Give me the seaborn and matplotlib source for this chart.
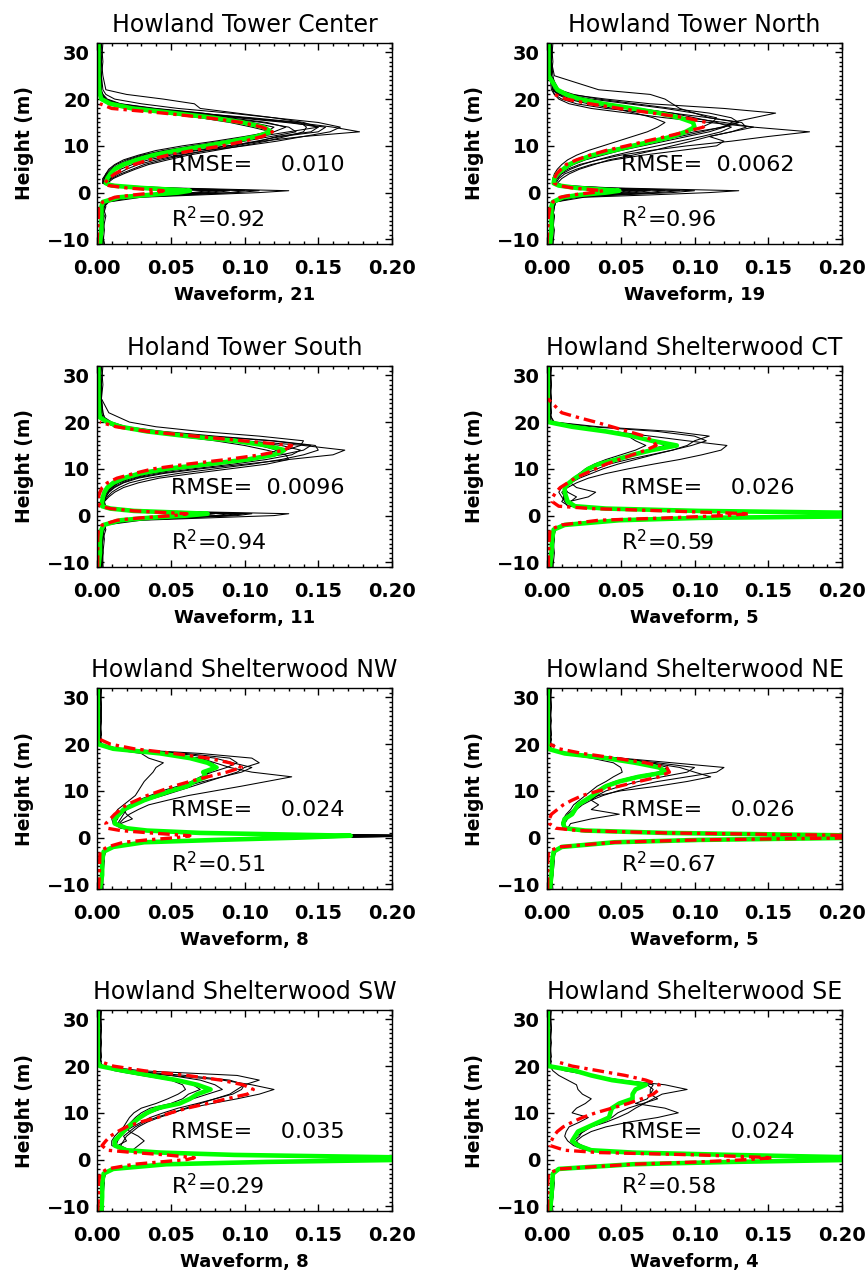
import numpy as np
import pandas as pd
import matplotlib
matplotlib.use("Agg")
import matplotlib.pyplot as plt
from matplotlib.ticker import MultipleLocator, FormatStrFormatter
import seaborn as sns

nan = np.nan

# ---------------- data ----------------
heights = [-11, -8, -5, -3, -2, -1, -0.5, 0, 0.4, 1, 1.5, 2, 3, 4, 5, 6, 7, 8,
           9, 10, 11, 12, 13, 14, 15, 16, 17, 18, 19, 20, 21, 22, 25, 28, 32]

titles = ["Howland Tower Center", "Howland Tower North", "Holand Tower South",
          "Howland Shelterwood CT", "Howland Shelterwood NW", "Howland Shelterwood NE",
          "Howland Shelterwood SW", "Howland Shelterwood SE"]
wave_counts = [21, 19, 11, 5, 8, 5, 8, 4]
rmse_labels = ["RMSE=    0.010", "RMSE=  0.0062", "RMSE=  0.0096", "RMSE=    0.026",
               "RMSE=    0.024", "RMSE=    0.026", "RMSE=    0.035", "RMSE=    0.024"]
r2_values = ["0.92", "0.96", "0.94", "0.59", "0.51", "0.67", "0.29", "0.58"]

# mean waveform (green)
mean_1 = [0.002,0.003,0.003,0.003, 0.004,0.015,0.035,0.055,0.063,0.030,0.010,0.006, 0.007,0.009,0.012,0.018,0.027,0.038, 0.054,0.074,0.092,0.108,0.118,0.113,0.099,0.079,0.052,0.024,0.009, 0.003,0.002,0.0015,0.001,0.001,0.001]
mean_2 = [0.002,0.003,0.003,0.003, 0.004,0.011,0.022,0.040,0.049,0.020,0.008,0.0045, 0.005,0.007,0.011,0.015,0.022,0.031, 0.045,0.058,0.072,0.085,0.094,0.100,0.099,0.090,0.076,0.058,0.038, 0.022,0.013,0.007,0.001,0.001,0.001]
mean_3 = [0.001,0.002,0.002,0.003, 0.0045,0.016,0.034,0.061,0.075,0.025,0.009,0.0035, 0.0035,0.004,0.005,0.007,0.011,0.018, 0.029,0.047,0.075,0.102,0.120,0.127,0.115,0.093,0.061,0.034,0.016, 0.007,0.002,0.0015,0.001,0.001,0.001]
mean_4 = [0.002,0.003,0.0035,0.0045, 0.012,0.049,0.103,0.260,0.260,0.103,0.040,0.019, 0.014,0.013,0.012,0.012,0.015,0.019, 0.024,0.028,0.035,0.047,0.058,0.071,0.088,0.071,0.058,0.040,0.017, 0.001,0.0005,0.0005,0.0005,0.0005,0.0005]
mean_5 = [0.002,0.0035,0.0035,0.0045, 0.011,0.032,0.081,0.138,0.172,0.070,0.034,0.020, 0.012,0.012,0.015,0.018,0.025,0.032, 0.041,0.050,0.061,0.066,0.074,0.072,0.081,0.075,0.063,0.043,0.011, 0.0005,0.0005,0.0005,0.0005,0.0005,0.0005]
mean_6 = [0.002,0.003,0.0035,0.0045, 0.010,0.046,0.103,0.220,0.220,0.080,0.026,0.012, 0.011,0.012,0.017,0.019,0.021,0.026, 0.031,0.035,0.040,0.049,0.062,0.081,0.076,0.060,0.040,0.012,0.0005, 0.0005,0.0005,0.0005,0.0005,0.0005,0.0005]
mean_7 = [0.003,0.0035,0.0035,0.0045, 0.011,0.047,0.115,0.220,0.220,0.093,0.043,0.020, 0.012,0.012,0.015,0.018,0.021,0.025, 0.029,0.034,0.041,0.056,0.063,0.068,0.077,0.068,0.054,0.036,0.018, 0.002,0.0005,0.0005,0.0005,0.0005,0.0005]
mean_8 = [0.002,0.003,0.0035,0.004, 0.008,0.058,0.125,0.220,0.220,0.125,0.058,0.030, 0.021,0.017,0.019,0.021,0.028,0.035, 0.042,0.043,0.044,0.049,0.058,0.058,0.060,0.067,0.044,0.030,0.019, 0.001,0.0005,0.0005,0.0005,0.0005,0.0005]

# modelled waveform (red)
model_1 = [0.0,0.0005,0.001,0.001, 0.004,0.012,0.025,0.040,0.045,0.020,0.008,0.005, 0.008,0.012,0.018,0.025,0.035,0.048, 0.065,0.085,0.100,0.112,0.119,0.112,0.098,0.075,0.045,0.010,0.002, nan,nan,nan,nan,nan,nan]
model_2 = [0.0,0.0005,0.001,0.002, 0.004,0.009,0.017,0.031,0.038,0.017,0.008,0.005, 0.005,0.0065,0.0095,0.013,0.020,0.029, 0.040,0.054,0.067,0.081,0.094,0.106,0.108,0.094,0.072,0.049,0.029, 0.013,0.005,nan,nan,nan,nan]
model_3 = [0.0005,0.0005,0.0005,0.001, 0.0035,0.0135,0.029,0.052,0.061,0.025,0.009,0.002, 0.001,0.001,0.002,0.0035,0.007,0.0135, 0.025,0.038,0.061,0.088,0.111,0.127,0.132,0.099,0.066,0.034,0.013, 0.002,nan,nan,nan,nan,nan]
model_4 = [0.001,0.001,0.0015,0.002, 0.010,0.035,0.081,0.121,0.137,0.081,0.030,0.008, 0.0035,0.004,0.006,0.009,0.014,0.019, 0.026,0.033,0.040,0.049,0.058,0.067,0.074,0.072,0.066,0.055,0.044, 0.033,0.021,0.010,0.0005,nan,nan]
model_5 = [0.001,0.0015,0.0018,0.002, 0.007,0.018,0.034,0.054,0.063,0.036,0.016,0.007, 0.006,0.009,0.012,0.016,0.020,0.027, 0.034,0.043,0.052,0.063,0.075,0.088,0.098,0.090,0.075,0.052,0.025, 0.009,0.002,nan,nan,nan,nan]
model_6 = [0.0005,0.0005,0.0005,0.001, 0.008,0.046,0.103,0.220,0.220,0.080,0.021,0.006, 0.0016,0.0016,0.003,0.007,0.011,0.017, 0.024,0.035,0.049,0.062,0.076,0.083,0.081,0.067,0.046,0.024,0.008, 0.002,nan,nan,nan,nan,nan]
model_7 = [0.0005,0.001,0.001,0.002, 0.007,0.025,0.043,0.061,0.066,0.047,0.025,0.007, 0.0034,0.006,0.009,0.014,0.020,0.029, 0.041,0.050,0.061,0.075,0.088,0.102,0.106,0.099,0.084,0.061,0.032, 0.011,0.002,nan,nan,nan,nan]
model_8 = [0.0005,0.0005,0.0005,0.001, 0.008,0.058,0.103,0.137,0.153,0.103,0.035,0.012, 0.002,0.003,0.0045,0.007,0.011,0.017, 0.024,0.033,0.044,0.055,0.064,0.072,0.076,0.076,0.067,0.053,0.035, 0.017,0.006,nan,nan,nan,nan]

# individual waveforms (black)
waves_1 = [
    [0.004,0.005,0.004,0.005, 0.008,0.030,0.070,0.110,0.130,0.050,0.015,0.008, 0.006,0.010,0.013,0.020,0.030,0.045, 0.065,0.088,0.112,0.140,0.178,0.160,0.135,0.100,0.065,0.030,0.012, 0.006,0.004,0.003,0.003,0.004,0.003],
    [0.003,0.004,0.006,0.004, 0.006,0.022,0.055,0.090,0.100,0.040,0.012,0.005, 0.009,0.014,0.020,0.028,0.040,0.055, 0.075,0.100,0.122,0.140,0.158,0.165,0.150,0.120,0.090,0.055,0.030, 0.012,0.006,0.004,0.003,0.002,0.003],
    [0.005,0.003,0.004,0.006, 0.005,0.018,0.040,0.065,0.075,0.030,0.010,0.004, 0.005,0.008,0.010,0.015,0.022,0.032, 0.048,0.068,0.090,0.110,0.130,0.150,0.140,0.120,0.095,0.070,0.066, 0.045,0.020,0.006,0.004,0.003,0.004],
    [0.002,0.004,0.003,0.005, 0.007,0.025,0.060,0.095,0.110,0.045,0.012,0.007, 0.011,0.018,0.026,0.035,0.048,0.062, 0.080,0.098,0.115,0.128,0.140,0.142,0.138,0.105,0.068,0.035,0.014, 0.005,0.003,0.002,0.002,0.003,0.002],
    [0.003,0.002,0.003,0.004, 0.005,0.015,0.035,0.055,0.062,0.025,0.008,0.004, 0.004,0.006,0.008,0.012,0.018,0.028, 0.040,0.058,0.080,0.100,0.118,0.105,0.090,0.070,0.045,0.020,0.007, 0.003,0.002,0.002,0.001,0.002,0.001],
    [0.004,0.003,0.005,0.003, 0.006,0.020,0.045,0.075,0.085,0.035,0.010,0.006, 0.008,0.012,0.016,0.024,0.035,0.050, 0.068,0.090,0.108,0.125,0.150,0.155,0.128,0.095,0.060,0.028,0.010, 0.004,0.003,0.003,0.002,0.003,0.002],
    [0.002,0.003,0.002,0.003, 0.004,0.012,0.030,0.048,0.055,0.022,0.007,0.005, 0.006,0.007,0.010,0.016,0.024,0.035, 0.050,0.070,0.090,0.108,0.120,0.128,0.115,0.090,0.072,0.040,0.016, 0.007,0.004,0.002,0.002,0.001,0.002],
    [0.003,0.004,0.004,0.003, 0.005,0.018,0.042,0.070,0.080,0.032,0.009,0.004, 0.004,0.007,0.011,0.017,0.026,0.040, 0.058,0.080,0.100,0.118,0.135,0.130,0.112,0.085,0.058,0.028,0.010, 0.004,0.003,0.002,0.003,0.002,0.003],
    [0.005,0.003,0.004,0.004, 0.006,0.022,0.050,0.080,0.090,0.036,0.011,0.005, 0.010,0.016,0.024,0.032,0.044,0.058, 0.074,0.094,0.110,0.122,0.145,0.150,0.132,0.100,0.070,0.038,0.015, 0.006,0.003,0.003,0.002,0.003,0.002],
    [0.002,0.003,0.003,0.004, 0.004,0.014,0.032,0.050,0.058,0.024,0.008,0.004, 0.005,0.006,0.009,0.013,0.020,0.030, 0.045,0.064,0.085,0.104,0.115,0.120,0.105,0.082,0.055,0.026,0.009, 0.003,0.002,0.002,0.002,0.002,0.001],
]
waves_2 = [
    [0.004,0.005,0.003,0.004, 0.006,0.025,0.070,0.110,0.130,0.045,0.012,0.006, 0.006,0.009,0.014,0.022,0.035,0.050, 0.070,0.095,0.125,0.150,0.178,0.140,0.110,0.080,0.055,0.030,0.015, 0.008,0.005,0.004,0.003,0.004,0.003],
    [0.003,0.004,0.005,0.003, 0.005,0.015,0.035,0.060,0.070,0.028,0.010,0.005, 0.005,0.008,0.012,0.018,0.026,0.038, 0.050,0.065,0.080,0.095,0.110,0.120,0.125,0.140,0.155,0.120,0.070, 0.040,0.015,0.006,0.004,0.003,0.004],
    [0.002,0.003,0.004,0.005, 0.006,0.012,0.030,0.050,0.060,0.025,0.008,0.004, 0.004,0.006,0.010,0.014,0.020,0.030, 0.040,0.055,0.070,0.085,0.100,0.120,0.130,0.110,0.100,0.090,0.085, 0.080,0.070,0.035,0.005,0.003,0.002],
    [0.003,0.002,0.004,0.004, 0.005,0.018,0.045,0.075,0.090,0.035,0.010,0.006, 0.008,0.012,0.020,0.030,0.045,0.065, 0.090,0.115,0.120,0.110,0.125,0.140,0.120,0.095,0.070,0.040,0.020, 0.010,0.005,0.003,0.002,0.003,0.002],
    [0.002,0.003,0.002,0.003, 0.004,0.010,0.022,0.038,0.045,0.018,0.007,0.004, 0.004,0.005,0.007,0.010,0.014,0.020, 0.028,0.038,0.048,0.058,0.068,0.075,0.080,0.072,0.060,0.045,0.028, 0.014,0.007,0.004,0.002,0.002,0.001],
    [0.004,0.004,0.003,0.005, 0.006,0.020,0.050,0.085,0.100,0.040,0.012,0.007, 0.010,0.015,0.022,0.032,0.042,0.058, 0.072,0.085,0.098,0.110,0.125,0.135,0.132,0.110,0.085,0.060,0.035, 0.016,0.008,0.004,0.003,0.003,0.003],
    [0.003,0.003,0.005,0.003, 0.005,0.014,0.032,0.055,0.065,0.028,0.009,0.005, 0.006,0.008,0.012,0.017,0.025,0.035, 0.048,0.060,0.072,0.085,0.095,0.105,0.112,0.115,0.100,0.080,0.055, 0.030,0.012,0.005,0.003,0.002,0.003],
    [0.003,0.004,0.004,0.005, 0.005,0.016,0.040,0.068,0.080,0.030,0.010,0.005, 0.007,0.010,0.016,0.024,0.034,0.046, 0.060,0.075,0.090,0.105,0.118,0.125,0.115,0.100,0.085,0.062,0.040, 0.020,0.009,0.004,0.003,0.002,0.003],
    [0.002,0.003,0.003,0.004, 0.004,0.012,0.028,0.048,0.055,0.022,0.008,0.004, 0.005,0.007,0.010,0.016,0.024,0.034, 0.046,0.060,0.075,0.090,0.105,0.118,0.130,0.125,0.110,0.085,0.060, 0.035,0.018,0.008,0.003,0.003,0.002],
]
waves_3 = [
    [0.003,0.004,0.005,0.004, 0.006,0.030,0.075,0.120,0.130,0.040,0.012,0.005, 0.004,0.006,0.008,0.012,0.018,0.028, 0.045,0.070,0.100,0.130,0.160,0.168,0.140,0.100,0.065,0.035,0.015, 0.007,0.004,0.003,0.003,0.003,0.004],
    [0.004,0.003,0.004,0.006, 0.005,0.025,0.060,0.095,0.105,0.035,0.010,0.006, 0.005,0.007,0.010,0.015,0.022,0.035, 0.055,0.080,0.105,0.125,0.140,0.150,0.148,0.120,0.080,0.045,0.020, 0.010,0.005,0.004,0.003,0.002,0.003],
    [0.002,0.004,0.003,0.004, 0.004,0.020,0.050,0.085,0.095,0.030,0.010,0.004, 0.004,0.005,0.007,0.010,0.014,0.022, 0.035,0.055,0.080,0.100,0.118,0.128,0.138,0.140,0.110,0.070,0.040, 0.022,0.015,0.008,0.003,0.003,0.002],
    [0.003,0.002,0.004,0.003, 0.005,0.022,0.055,0.090,0.100,0.032,0.011,0.005, 0.005,0.008,0.012,0.018,0.028,0.042, 0.065,0.090,0.115,0.130,0.128,0.115,0.100,0.080,0.055,0.030,0.012, 0.005,0.003,0.002,0.002,0.003,0.002],
    [0.004,0.004,0.003,0.005, 0.006,0.020,0.048,0.080,0.090,0.030,0.010,0.005, 0.003,0.005,0.006,0.009,0.013,0.020, 0.032,0.050,0.075,0.100,0.125,0.140,0.145,0.118,0.075,0.040,0.018, 0.008,0.005,0.004,0.003,0.004,0.003],
    [0.002,0.003,0.002,0.003, 0.004,0.015,0.040,0.070,0.080,0.028,0.008,0.004, 0.004,0.005,0.007,0.010,0.015,0.024, 0.038,0.058,0.082,0.102,0.115,0.122,0.110,0.090,0.062,0.035,0.016, 0.007,0.003,0.002,0.001,0.002,0.002],
    [0.003,0.003,0.004,0.004, 0.005,0.022,0.052,0.088,0.098,0.033,0.010,0.005, 0.005,0.006,0.008,0.011,0.017,0.026, 0.042,0.065,0.092,0.115,0.132,0.138,0.125,0.100,0.068,0.038,0.017, 0.008,0.004,0.003,0.002,0.003,0.002],
]
waves_4 = [
    [0.004,0.005,0.004,0.006, 0.012,0.050,0.110,0.250,0.250,0.110,0.040,0.015, 0.010,0.012,0.010,0.014,0.020,0.028, 0.040,0.055,0.072,0.090,0.105,0.118,0.122,0.095,0.070,0.045,0.015, 0.003,0.002,0.003,0.002,0.003,0.002],
    [0.003,0.004,0.005,0.004, 0.010,0.045,0.100,0.240,0.240,0.100,0.038,0.016, 0.015,0.028,0.033,0.020,0.016,0.020, 0.026,0.034,0.042,0.055,0.070,0.085,0.098,0.108,0.100,0.075,0.030, 0.004,0.003,0.002,0.003,0.002,0.003],
    [0.003,0.003,0.004,0.005, 0.010,0.040,0.095,0.220,0.220,0.095,0.035,0.014, 0.012,0.010,0.008,0.010,0.014,0.018, 0.022,0.026,0.032,0.040,0.050,0.060,0.067,0.060,0.055,0.040,0.015, 0.002,0.002,0.003,0.002,0.002,0.003],
    [0.004,0.003,0.005,0.004, 0.011,0.048,0.105,0.230,0.230,0.105,0.040,0.018, 0.016,0.020,0.014,0.012,0.016,0.022, 0.030,0.038,0.048,0.060,0.072,0.085,0.095,0.100,0.110,0.085,0.035, 0.005,0.003,0.002,0.002,0.003,0.002],
    [0.002,0.004,0.003,0.004, 0.012,0.052,0.108,0.260,0.260,0.108,0.042,0.020, 0.013,0.011,0.012,0.011,0.014,0.018, 0.022,0.027,0.033,0.045,0.056,0.068,0.080,0.072,0.062,0.045,0.018, 0.002,0.002,0.002,0.003,0.002,0.002],
]
waves_5 = [
    [0.003,0.004,0.005,0.004, 0.010,0.030,0.085,0.160,0.220,0.070,0.030,0.018, 0.015,0.018,0.022,0.028,0.035,0.048, 0.062,0.080,0.098,0.115,0.132,0.105,0.090,0.080,0.070,0.040,0.010, 0.002,0.002,0.003,0.002,0.003,0.002],
    [0.004,0.003,0.004,0.006, 0.012,0.035,0.090,0.150,0.200,0.075,0.035,0.022, 0.014,0.016,0.018,0.020,0.026,0.034, 0.045,0.055,0.065,0.075,0.085,0.095,0.100,0.110,0.105,0.070,0.015, 0.003,0.002,0.002,0.003,0.002,0.003],
    [0.002,0.004,0.003,0.005, 0.011,0.033,0.082,0.140,0.210,0.068,0.032,0.019, 0.016,0.024,0.020,0.018,0.022,0.030, 0.038,0.048,0.060,0.072,0.085,0.098,0.105,0.092,0.080,0.055,0.012, 0.002,0.003,0.002,0.002,0.003,0.002],
    [0.003,0.003,0.004,0.004, 0.010,0.028,0.075,0.130,0.190,0.062,0.030,0.016, 0.011,0.010,0.012,0.014,0.018,0.022, 0.026,0.028,0.030,0.032,0.035,0.038,0.040,0.045,0.035,0.030,0.008, 0.002,0.002,0.003,0.002,0.002,0.003],
    [0.002,0.003,0.003,0.005, 0.012,0.034,0.088,0.150,0.230,0.072,0.036,0.021, 0.013,0.013,0.016,0.020,0.026,0.034, 0.042,0.052,0.060,0.066,0.072,0.076,0.082,0.078,0.068,0.050,0.012, 0.003,0.002,0.002,0.003,0.003,0.002],
    [0.004,0.004,0.003,0.004, 0.011,0.031,0.080,0.145,0.250,0.068,0.033,0.020, 0.012,0.014,0.015,0.017,0.022,0.028, 0.036,0.044,0.055,0.064,0.070,0.078,0.088,0.095,0.090,0.060,0.014, 0.002,0.003,0.002,0.002,0.002,0.003],
]
waves_6 = [
    [0.003,0.004,0.005,0.004, 0.011,0.050,0.110,0.230,0.230,0.085,0.028,0.013, 0.012,0.014,0.016,0.020,0.024,0.030, 0.038,0.048,0.060,0.075,0.095,0.115,0.120,0.085,0.050,0.015,0.002, 0.002,0.003,0.002,0.002,0.003,0.002],
    [0.004,0.003,0.004,0.006, 0.010,0.045,0.100,0.220,0.220,0.078,0.025,0.012, 0.010,0.012,0.014,0.018,0.022,0.028, 0.035,0.050,0.075,0.095,0.111,0.100,0.090,0.070,0.045,0.013,0.002, 0.003,0.002,0.003,0.002,0.002,0.003],
    [0.002,0.004,0.003,0.005, 0.009,0.042,0.095,0.210,0.210,0.075,0.024,0.011, 0.010,0.011,0.013,0.016,0.018,0.022, 0.026,0.030,0.034,0.040,0.045,0.051,0.050,0.045,0.030,0.010,0.002, 0.002,0.002,0.002,0.003,0.002,0.002],
    [0.003,0.003,0.004,0.004, 0.011,0.048,0.105,0.230,0.230,0.082,0.027,0.014, 0.016,0.030,0.049,0.030,0.035,0.030, 0.034,0.040,0.050,0.062,0.078,0.095,0.100,0.075,0.048,0.014,0.003, 0.002,0.003,0.002,0.002,0.003,0.002],
    [0.002,0.003,0.003,0.005, 0.010,0.046,0.102,0.220,0.220,0.080,0.026,0.012, 0.011,0.012,0.018,0.020,0.022,0.025, 0.030,0.034,0.038,0.046,0.058,0.075,0.082,0.070,0.050,0.016,0.002, 0.002,0.002,0.003,0.002,0.002,0.003],
]
waves_7 = [
    [0.004,0.004,0.005,0.004, 0.012,0.050,0.120,0.230,0.230,0.095,0.045,0.018, 0.014,0.020,0.018,0.022,0.026,0.032, 0.040,0.050,0.062,0.078,0.095,0.110,0.120,0.105,0.085,0.050,0.015, 0.003,0.002,0.003,0.002,0.003,0.002],
    [0.003,0.003,0.004,0.006, 0.011,0.045,0.110,0.220,0.220,0.090,0.040,0.022, 0.016,0.018,0.020,0.024,0.028,0.034, 0.042,0.052,0.060,0.070,0.080,0.090,0.095,0.100,0.110,0.095,0.030, 0.004,0.002,0.002,0.003,0.002,0.003],
    [0.002,0.004,0.003,0.005, 0.010,0.048,0.112,0.210,0.210,0.092,0.042,0.024, 0.028,0.032,0.028,0.022,0.020,0.024, 0.030,0.036,0.045,0.055,0.065,0.075,0.085,0.080,0.070,0.050,0.020, 0.002,0.003,0.002,0.002,0.003,0.002],
    [0.003,0.003,0.004,0.004, 0.011,0.046,0.118,0.220,0.220,0.094,0.044,0.019, 0.010,0.010,0.012,0.015,0.018,0.020, 0.022,0.025,0.030,0.040,0.048,0.055,0.060,0.058,0.050,0.030,0.012, 0.002,0.002,0.003,0.002,0.002,0.002],
    [0.004,0.004,0.003,0.004, 0.012,0.049,0.116,0.230,0.230,0.096,0.046,0.021, 0.013,0.014,0.016,0.019,0.024,0.030, 0.036,0.045,0.055,0.068,0.080,0.092,0.098,0.100,0.090,0.060,0.022, 0.003,0.002,0.002,0.003,0.002,0.003],
    [0.002,0.003,0.003,0.005, 0.011,0.047,0.114,0.220,0.220,0.092,0.042,0.020, 0.012,0.013,0.015,0.017,0.020,0.023, 0.026,0.030,0.036,0.050,0.058,0.062,0.070,0.065,0.052,0.038,0.016, 0.002,0.002,0.002,0.002,0.003,0.002],
]
waves_8 = [
    [0.003,0.004,0.005,0.004, 0.010,0.060,0.130,0.230,0.230,0.130,0.060,0.030, 0.020,0.016,0.020,0.025,0.030,0.040, 0.048,0.055,0.060,0.066,0.072,0.078,0.095,0.080,0.050,0.030,0.015, 0.002,0.003,0.002,0.002,0.003,0.002],
    [0.004,0.003,0.004,0.005, 0.009,0.055,0.120,0.220,0.220,0.120,0.055,0.028, 0.022,0.020,0.024,0.030,0.040,0.055, 0.075,0.089,0.080,0.060,0.068,0.070,0.070,0.072,0.050,0.030,0.012, 0.002,0.002,0.003,0.002,0.002,0.003],
    [0.002,0.004,0.003,0.004, 0.008,0.050,0.110,0.210,0.210,0.110,0.050,0.026, 0.018,0.014,0.012,0.013,0.015,0.022, 0.028,0.017,0.020,0.026,0.030,0.024,0.021,0.020,0.014,0.008,0.004, 0.002,0.002,0.002,0.003,0.002,0.002],
    [0.003,0.003,0.004,0.004, 0.009,0.058,0.125,0.220,0.220,0.125,0.058,0.032, 0.024,0.018,0.022,0.024,0.030,0.038, 0.044,0.048,0.055,0.065,0.075,0.070,0.072,0.068,0.045,0.030,0.020, 0.003,0.002,0.002,0.002,0.003,0.002],
]

means = [mean_1, mean_2, mean_3, mean_4, mean_5, mean_6, mean_7, mean_8]
models = [model_1, model_2, model_3, model_4, model_5, model_6, model_7, model_8]
waves = [waves_1, waves_2, waves_3, waves_4, waves_5, waves_6, waves_7, waves_8]

# ---------------- styling ----------------
sns.set_theme(style="ticks")
plt.rcParams["font.family"] = ["DejaVu Sans"]
plt.rcParams["mathtext.fontset"] = "dejavusans"
for key in ["text.color", "axes.labelcolor", "xtick.color", "ytick.color", "axes.edgecolor"]:
    plt.rcParams[key] = "black"

W, Hpx = 866, 1271
fig = plt.figure(figsize=(W / 100, Hpx / 100), dpi=100)
fig.patch.set_facecolor("white")

col_left = [97, 547]
row_top = [43, 366, 688, 1010]
ax_w, ax_h = 295, 201

for i in range(8):
    r, c = divmod(i, 2)
    left = col_left[c] / W
    bottom = 1 - (row_top[r] + ax_h) / Hpx
    ax = fig.add_axes([left, bottom, ax_w / W, ax_h / Hpx])
    ax.set_facecolor("white")

    rows = []
    for k, wv in enumerate(waves[i]):
        for h, v in zip(heights, wv):
            rows.append((k, h, v))
    dfb = pd.DataFrame(rows, columns=["wave", "height", "value"])
    sns.lineplot(data=dfb, x="value", y="height", units="wave", estimator=None,
                 sort=False, color="black", lw=0.75, ax=ax, legend=False)

    dfg = pd.DataFrame({"height": heights, "value": means[i]}).dropna()
    sns.lineplot(data=dfg, x="value", y="height", estimator=None, sort=False,
                 color="#00ff00", lw=3.3, ax=ax, legend=False)

    dfr = pd.DataFrame({"height": heights, "value": models[i]}).dropna()
    sns.lineplot(data=dfr, x="value", y="height", estimator=None, sort=False,
                 color="#ff0000", lw=2.4, ax=ax, legend=False,
                 linestyle=(0, (3.5, 1.5, 1.0, 1.5)))

    ax.set_xlim(0, 0.2)
    ax.set_ylim(-11, 32)
    ax.xaxis.set_major_locator(MultipleLocator(0.05))
    ax.xaxis.set_minor_locator(MultipleLocator(0.01))
    ax.yaxis.set_major_locator(MultipleLocator(10))
    ax.yaxis.set_minor_locator(MultipleLocator(1))
    ax.xaxis.set_major_formatter(FormatStrFormatter("%.2f"))
    ax.tick_params(which="both", direction="in", top=True, right=True,
                   width=1.0, color="black")
    ax.tick_params(which="major", length=5)
    ax.tick_params(which="minor", length=2.5)
    ax.tick_params(axis="x", which="major", pad=11, labelsize=14)
    ax.tick_params(axis="y", which="major", pad=5, labelsize=14)
    for lab in ax.get_xticklabels() + ax.get_yticklabels():
        lab.set_fontweight("bold")
    for sp in ax.spines.values():
        sp.set_visible(True)
        sp.set_linewidth(1.0)
        sp.set_color("black")

    ax.set_title(titles[i], fontsize=17, pad=8, color="black")
    ax.set_xlabel(f"Waveform, {wave_counts[i]}", fontsize=13, fontweight="bold")
    ax.set_ylabel("Height (m)", fontsize=13.5, fontweight="bold")
    ax.xaxis.set_label_coords(0.5, -0.21)
    ax.yaxis.set_label_coords(-0.215, 0.5)

    ax.text(0.05, 5.8, rmse_labels[i], fontsize=16, va="center", ha="left")
    ax.text(0.05, -5.6, "R$^2$=" + r2_values[i], fontsize=16, va="center", ha="left")

fig.savefig("out.png", dpi=100, facecolor="white")
